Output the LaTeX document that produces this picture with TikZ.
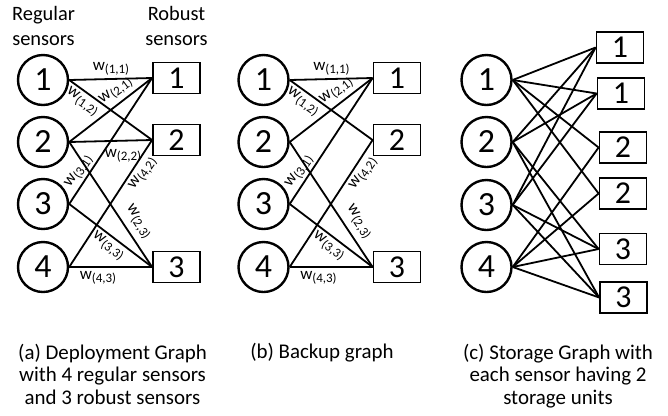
\documentclass[tikz,border=0pt]{standalone}
\usepackage{fontspec}
\setmainfont{Carlito}
\newcommand\wsub[1]{w\raisebox{-3.5bp}{\fontsize{13}{13}\selectfont(#1)}}
\begin{document}
\begin{tikzpicture}[x=1bp,y=-1bp,
  reg/.style={circle, draw, line width=2.4bp, minimum size=50bp, inner sep=0pt,
              font=\fontsize{34}{34}\selectfont},
  rob/.style={rectangle, draw, line width=1.8bp, minimum width=47bp,
              minimum height=31bp, inner sep=0pt, font=\fontsize{32}{32}\selectfont},
  edge/.style={line width=1.8bp},
  wlab/.style={inner sep=0pt, font=\fontsize{17}{17}\selectfont},
  head/.style={align=center, font=\fontsize{20.5}{25}\selectfont, inner sep=0pt},
  captext/.style={align=center, font=\fontsize{21}{22.5}\selectfont, inner sep=0pt}]

\useasboundingbox (0,0) rectangle (668,415);

% ---------- (a) deployment graph ----------
% base anchor of a multi-line node sits on its last line
\node[head, anchor=base] (hreg) at (43.5,45) {Regular\\sensors};
\node[head, anchor=base] (hrob) at (176.5,45) {Robust\\sensors};

\node[reg] (a1) at (43,80) {1};
\node[reg] (a2) at (43,142) {2};
\node[reg] (a3) at (43,204) {3};
\node[reg] (a4) at (43,267) {4};
\node[rob] (ar1) at (176.5,78) {1};
\node[rob] (ar2) at (176.5,140) {2};
\node[rob] (ar3) at (176.5,267) {3};

\draw[edge] (a1.east) -- (ar1.west);
\draw[edge] (a1.east) -- (ar2.west);
\draw[edge] (a2.east) -- (ar1.west);
\draw[edge] (a2.east) -- (ar2.west);
\draw[edge] (a2.east) -- (ar3.west);
\draw[edge] (a3.east) -- (ar1.west);
\draw[edge] (a3.east) -- (ar3.west);
\draw[edge] (a4.east) -- (ar2.west);
\draw[edge] (a4.east) -- (ar3.west);

\node[wlab] (aw11) at (111,69) {\wsub{1,1}};
\node[wlab, rotate=-35] (aw12) at (82,102) {\wsub{1,2}};
\node[wlab, rotate=37] (aw21) at (116,91) {\wsub{2,1}};
\node[wlab] (aw22) at (123,156) {\wsub{2,2}};
\node[wlab, rotate=56] (aw31) at (79,172) {\wsub{3,1}};
\node[wlab, rotate=56] (aw42) at (143,174) {\wsub{4,2}};
\node[wlab, rotate=-56] (aw23) at (138,222) {\wsub{2,3}};
\node[wlab, rotate=-36] (aw33) at (108,246) {\wsub{3,3}};
\node[wlab] (aw43) at (98,278) {\wsub{4,3}};

\node[captext, anchor=base] (capa) at (112.5,404)
  {(a) Deployment Graph\\with 4 regular sensors\\and 3 robust sensors};

% ---------- (b) backup graph ----------
\begin{scope}[shift={(220.5,0)}]
\node[reg] (b1) at (43,80) {1};
\node[reg] (b2) at (43,142) {2};
\node[reg] (b3) at (43,204) {3};
\node[reg] (b4) at (43,267) {4};
\node[rob] (br1) at (176.5,78) {1};
\node[rob] (br2) at (176.5,140) {2};
\node[rob] (br3) at (176.5,267) {3};

\draw[edge] (b1.east) -- (br1.west);
\draw[edge] (b1.east) -- (br2.west);
\draw[edge] (b2.east) -- (br1.west);
\draw[edge] (b2.east) -- (br3.west);
\draw[edge] (b3.east) -- (br1.west);
\draw[edge] (b3.east) -- (br3.west);
\draw[edge] (b4.east) -- (br2.west);
\draw[edge] (b4.east) -- (br3.west);

\node[wlab] (bw11) at (111,69) {\wsub{1,1}};
\node[wlab, rotate=-35] (bw12) at (82,102) {\wsub{1,2}};
\node[wlab, rotate=37] (bw21) at (116,91) {\wsub{2,1}};
\node[wlab, rotate=56] (bw31) at (79,172) {\wsub{3,1}};
\node[wlab, rotate=56] (bw42) at (143,174) {\wsub{4,2}};
\node[wlab, rotate=-56] (bw23) at (138,222) {\wsub{2,3}};
\node[wlab, rotate=-36] (bw33) at (108,246) {\wsub{3,3}};
\node[wlab] (bw43) at (98,278) {\wsub{4,3}};
\end{scope}

\node[captext, anchor=base] (capb) at (322,358) {(b) Backup graph};

% ---------- (c) storage graph ----------
\node[reg] (c1) at (486.5,80) {1};
\node[reg] (c2) at (486.5,142) {2};
\node[reg] (c3) at (486.5,205) {3};
\node[reg] (c4) at (486.5,267) {4};
\node[rob] (s1) at (620,47.5) {1};
\node[rob] (s2) at (621,93.5) {1};
\node[rob] (s3) at (623,147.5) {2};
\node[rob] (s4) at (623,193.5) {2};
\node[rob] (s5) at (623,249) {3};
\node[rob] (s6) at (623.5,297.5) {3};

\foreach \u/\v in {c1/s1, c1/s2, c1/s3, c1/s4,
                   c2/s1, c2/s2, c2/s5, c2/s6,
                   c3/s1, c3/s2, c3/s5, c3/s6,
                   c4/s3, c4/s4, c4/s5, c4/s6}
  \draw[edge] (\u.east) -- (\v.west);

\node[captext, anchor=base] (capc) at (558,404)
  {(c) Storage Graph with\\each sensor having 2\\storage units};
\end{tikzpicture}
\end{document}
